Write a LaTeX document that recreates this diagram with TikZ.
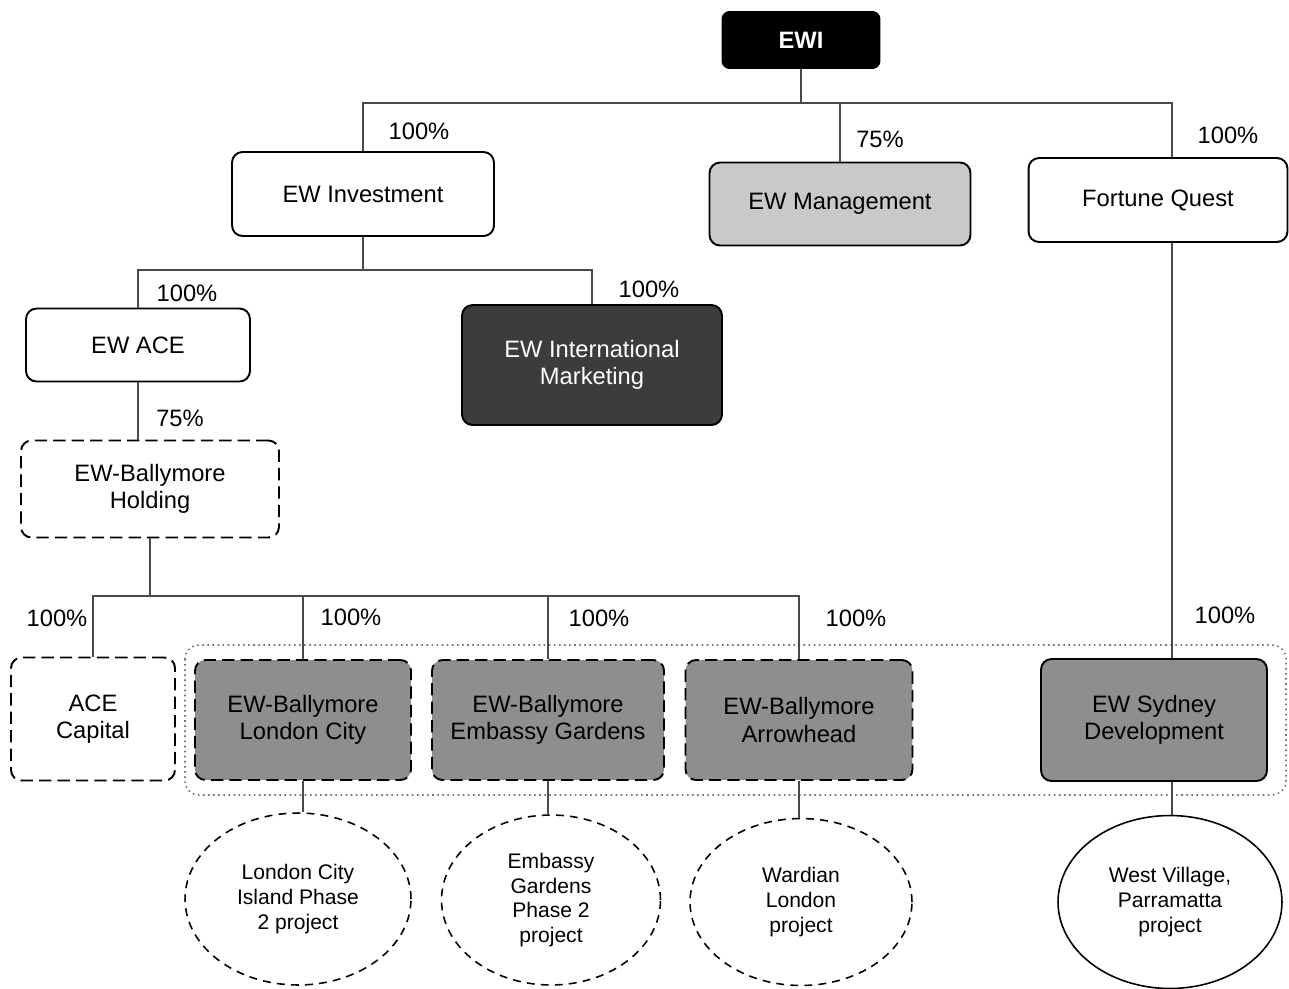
\documentclass[tikz,border=0pt]{standalone}
\usepackage{fontspec}
\setmainfont{Liberation Sans}
\usetikzlibrary{shapes.geometric}
\definecolor{ltgray}{HTML}{C9C9C9}
\definecolor{mdgray}{HTML}{8E8E8E}
\definecolor{dkgray}{HTML}{3C3C3C}
\definecolor{lnk}{HTML}{4A4A4A}

\begin{document}
\begin{tikzpicture}[x=0.02cm, y=-0.02cm,
  box/.style={draw, line width=1.1pt, rounded corners=6pt, align=center,
    inner sep=2pt, font=\fontsize{13.5}{15.5}\selectfont},
  dbox/.style={box, dash pattern=on 7pt off 3.5pt},
  proj/.style={ellipse, draw, line width=0.9pt, align=center, inner sep=0pt,
    font=\fontsize{12}{14}\selectfont},
  link/.style={lnk, line width=0.8pt},
  pct/.style={font=\fontsize{13.5}{15}\selectfont}]

\useasboundingbox (0,0) rectangle (1289,988);

% Group frame
\draw[black!55, dotted, line width=0.9pt, rounded corners=8pt] (185,645) rectangle (1286,795);

% Top
\node[box, fill=black, text=white, rounded corners=4pt, font=\fontsize{13.5}{15.5}\selectfont\bfseries,
  minimum width=3.14cm, minimum height=1.12cm] (ewi) at (801,40) {EWI};

% Second row
\node[box, minimum width=5.24cm, minimum height=1.68cm] (inv) at (363,194) {EW Investment};
\node[box, fill=ltgray, minimum width=5.22cm, minimum height=1.66cm] (mgt) at (840,204) {EW Management};
\node[box, minimum width=5.18cm, minimum height=1.68cm] (fq) at (1158,200) {Fortune Quest};

% Third row
\node[box, minimum width=4.48cm, minimum height=1.46cm] (ace) at (138,345) {EW ACE};
\node[box, fill=dkgray, text=white, minimum width=5.2cm, minimum height=2.4cm] (mkt) at (592,365)
  {EW International\\Marketing};
\node[dbox, minimum width=5.16cm, minimum height=1.94cm] (hold) at (150,489) {EW-Ballymore\\Holding};

% Subsidiaries
\node[dbox, minimum width=3.28cm, minimum height=2.46cm] (acec) at (93,719) {ACE\\Capital};
\node[dbox, fill=mdgray, minimum width=4.32cm, minimum height=2.4cm] (lc) at (303,720) {EW-Ballymore\\London City};
\node[dbox, fill=mdgray, minimum width=4.64cm, minimum height=2.4cm] (emb) at (548,720) {EW-Ballymore\\Embassy Gardens};
\node[dbox, fill=mdgray, minimum width=4.54cm, minimum height=2.4cm] (arw) at (799,720) {EW-Ballymore\\Arrowhead};
\node[box, fill=mdgray, minimum width=4.52cm, minimum height=2.44cm] (syd) at (1154,720) {EW Sydney\\Development};

% Projects
\node[proj, dash pattern=on 4.5pt off 3.5pt, minimum width=4.52cm, minimum height=3.44cm] (lcp) at (298,899)
  {London City\\Island Phase\\2 project};
\node[proj, dash pattern=on 4.5pt off 3.5pt, minimum width=4.38cm, minimum height=3.4cm] (embp) at (551,900)
  {Embassy\\Gardens\\Phase 2\\project};
\node[proj, dash pattern=on 4.5pt off 3.5pt, minimum width=4.44cm, minimum height=3.34cm] (arwp) at (801,902)
  {Wardian\\London\\project};
\node[proj, minimum width=4.48cm, minimum height=3.46cm] (wvp) at (1170,902)
  {West Village,\\Parramatta\\project};

% Bus points
\coordinate (b0) at (801,103);
\coordinate (b1) at (363,270);
\coordinate (b2) at (150,596);
\coordinate (fqx) at (1172,0);

% Links
\draw[link] (ewi) -- (b0);
\draw[link] (inv.north) |- (b0) -| (fqx |- fq.north);
\draw[link] (b0) -| (mgt.north);
\draw[link] (inv) -- (b1);
\draw[link] (ace.north) |- (b1) -| (mkt.north);
\draw[link] (ace.south) -- (ace.south |- hold.north);
\draw[link] (hold) -- (b2);
\draw[link] (acec.north) |- (b2) -| (arw.north);
\draw[link] (b2) -| (lc.north);
\draw[link] (b2) -| (emb.north);
\draw[link] (fqx |- fq.south) -- (fqx |- syd.north);
\draw[link] (lc.south) -- (lc.south |- lcp.north);
\draw[link] (emb.south) -- (emb.south |- embp.north);
\draw[link] (arw.south) -- (arw.south |- arwp.north);
\draw[link] (fqx |- syd.south) -- (fqx |- wvp.north);

% Shares
\foreach \x/\y/\t [count=\i] in {419/131/100, 880/139/75, 1228/135/100, 187/293/100, 649/289/100,
    180/418/75, 57/618/100, 351/617/100, 599/618/100, 856/618/100, 1225/615/100} {
  \node[pct] (pct\i) at (\x,\y) {\t\%};
}

\end{tikzpicture}
\end{document}
